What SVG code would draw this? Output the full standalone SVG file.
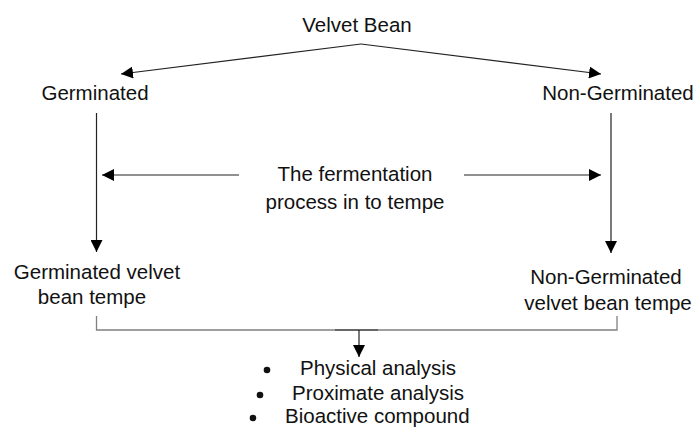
<svg xmlns="http://www.w3.org/2000/svg" width="697" height="428" viewBox="0 0 697 428">
<defs>
<marker id="ah" viewBox="0 0 10 10" refX="10" refY="5" markerWidth="12" markerHeight="12" markerUnits="userSpaceOnUse" orient="auto">
<path d="M0,0 L10,5 L0,10 Z" fill="#000"/>
</marker>
</defs>
<style>
text{font-family:"Liberation Sans",Arial,sans-serif;font-size:20.5px;fill:#111}
.c{text-anchor:middle}
.ln{stroke:#808080;stroke-width:1.3;fill:none}
.ar{stroke:#222;stroke-width:1.2;fill:none;marker-end:url(#ah)}
.dot{fill:#111}
</style>
<rect width="697" height="428" fill="#fff"/>
<g id="velvet-bean"><text class="c" x="357" y="32">Velvet Bean</text></g>
<g id="germinated"><text class="c" x="95" y="100">Germinated</text></g>
<g id="non-germinated"><text class="c" x="618" y="100">Non-Germinated</text></g>
<g id="fermentation"><text class="c" x="355" y="181">The fermentation</text><text class="c" x="355" y="209">process in to tempe</text></g>
<g id="germ-tempe"><text class="c" x="97" y="279">Germinated velvet</text><text class="c" x="92" y="304">bean tempe</text></g>
<g id="nongerm-tempe"><text class="c" x="606" y="284">Non-Germinated</text><text class="c" x="608" y="310">velvet bean tempe</text></g>
<g id="analysis">
<circle class="dot" cx="267" cy="370" r="3.3"/><text x="300" y="375">Physical analysis</text>
<circle class="dot" cx="260" cy="395" r="3.3"/><text x="292" y="400">Proximate analysis</text>
<circle class="dot" cx="253" cy="418" r="3.3"/><text x="285" y="423">Bioactive compound</text>
</g>
<g id="connectors">
<line class="ar" x1="361" y1="44" x2="121" y2="74"/>
<line class="ar" x1="361" y1="44" x2="601" y2="74"/>
<line class="ar" x1="96.5" y1="113" x2="96.5" y2="252"/>
<line class="ar" x1="611" y1="113" x2="611" y2="253"/>
<line class="ar" x1="239" y1="175" x2="102" y2="175"/>
<line class="ar" x1="464" y1="175" x2="601" y2="175"/>
<polyline class="ln" points="96.5,316 96.5,330 617,330 617,316"/>
<line x1="335" y1="330" x2="378" y2="330" stroke="#555" stroke-width="1.3"/>
<line class="ar" x1="359" y1="330" x2="359" y2="357"/>
</g>
</svg>
